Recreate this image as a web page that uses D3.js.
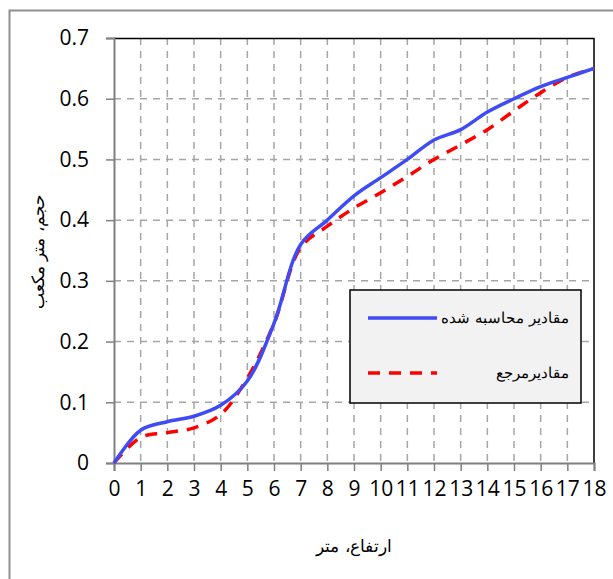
<!DOCTYPE html>
<html>
<head>
<meta charset="utf-8">
<script src="https://cdn.jsdelivr.net/npm/d3@7"></script>
<style>
  body { margin: 0; background: #fff; }
  svg { display: block; }
</style>
</head>
<body>
<div id="chart"></div>
<script>
// heights in metres
const heights = [0, 1, 2, 3, 4, 5, 6, 7, 8, 9, 10, 11, 12, 13, 14, 15, 16, 17, 18];
// computed values (blue)
const computed = [0, 0.054, 0.068, 0.077, 0.095, 0.135, 0.23, 0.36, 0.40, 0.44, 0.47, 0.50, 0.532, 0.549, 0.578, 0.60, 0.62, 0.635, 0.65];
// reference values (red dashed)
const reference = [0, 0.042, 0.05, 0.058, 0.08, 0.14, 0.23, 0.355, 0.39, 0.42, 0.445, 0.472, 0.50, 0.524, 0.549, 0.58, 0.61, 0.635, 0.65];
const yTicks = [0, 0.1, 0.2, 0.3, 0.4, 0.5, 0.6, 0.7];

const seriesNames = ["مقادیر محاسبه شده", "مقادیرمرجع"];
const xTitle = "ارتفاع، متر";
const yTitle = "حجم، متر مکعب";

const W = 613, H = 579;
const margin = {top: 38, right: 19, bottom: 116, left: 114};
const width = W - margin.left - margin.right;
const height = H - margin.top - margin.bottom;

const tickFont = "'Open Sans', 'Noto Sans', sans-serif";
const titleFont = "'DejaVu Serif', 'Times New Roman', serif";

const svg = d3.select("#chart").append("svg")
    .attr("width", W)
    .attr("height", H);

// outer chart border
svg.append("rect")
    .attr("x", 9.5).attr("y", 10.5)
    .attr("width", 700).attr("height", 700)
    .attr("fill", "none")
    .attr("stroke", "#909090")
    .attr("stroke-width", 2);

const g = svg.append("g")
    .attr("transform", `translate(${margin.left}, ${margin.top})`);

const x = d3.scaleLinear().domain([0, 18]).range([0, width]);
const y = d3.scaleLinear().domain([0, 0.7]).range([height, 0]);

// gridlines
g.append("g").selectAll("line")
    .data(heights.slice(1, -1))
    .join("line")
    .attr("x1", d => x(d)).attr("x2", d => x(d))
    .attr("y1", 0).attr("y2", height)
    .attr("stroke", "#a6a6a6")
    .attr("stroke-width", 1.5)
    .attr("stroke-dasharray", "7,6");

g.append("g").selectAll("line")
    .data(yTicks.slice(1, -1))
    .join("line")
    .attr("x1", 0).attr("x2", width)
    .attr("y1", d => y(d)).attr("y2", d => y(d))
    .attr("stroke", "#a6a6a6")
    .attr("stroke-width", 1.5)
    .attr("stroke-dasharray", "7,6");

// top and right border of plot area
g.append("path")
    .attr("d", `M0,0.5H${width}V${height}`)
    .attr("fill", "none")
    .attr("stroke", "#000")
    .attr("stroke-width", 1.5);

// axes
const xAxis = g.append("g")
    .attr("transform", `translate(0, ${height})`)
    .call(d3.axisBottom(x).tickValues(heights).tickFormat(d3.format("d")).tickSizeOuter(0).tickSize(8).tickPadding(10));
const yAxis = g.append("g")
    .call(d3.axisLeft(y).tickValues(yTicks).tickFormat(d => d === 0 ? "0" : d3.format(".1f")(d)).tickSizeOuter(0).tickSize(8).tickPadding(17));

[xAxis, yAxis].forEach(a => {
    a.select(".domain").attr("stroke", "#808080").attr("stroke-width", 2);
    a.selectAll(".tick line").attr("stroke", "#808080").attr("stroke-width", 1.5);
    a.selectAll(".tick text")
        .attr("fill", "#000")
        .style("font-family", tickFont)
        .style("font-size", "21px");
});

// lines
const line = d3.line().curve(d3.curveCatmullRom.alpha(0.5));

g.append("path")
    .datum(heights.map((h, i) => [x(h), y(reference[i])]))
    .attr("d", line)
    .attr("fill", "none")
    .attr("stroke", "#ff0000")
    .attr("stroke-width", 3.5)
    .attr("stroke-dasharray", "12,9");

g.append("path")
    .datum(heights.map((h, i) => [x(h), y(computed[i])]))
    .attr("d", line)
    .attr("fill", "none")
    .attr("stroke", "#3f4cf5")
    .attr("stroke-width", 3.5);

// legend
const legend = svg.append("g").attr("transform", "translate(350, 290)");
legend.append("rect")
    .attr("width", 231).attr("height", 113)
    .attr("fill", "#f2f2f2")
    .attr("stroke", "#000")
    .attr("stroke-width", 1.5);

const legendStyles = [
    {color: "#3f4cf5", dash: null, yy: 28},
    {color: "#ff0000", dash: "12,9", yy: 83}
];
seriesNames.forEach((name, i) => {
    const s = legendStyles[i];
    legend.append("line")
        .attr("x1", 18).attr("x2", 87)
        .attr("y1", s.yy).attr("y2", s.yy)
        .attr("stroke", s.color)
        .attr("stroke-width", 3.5)
        .attr("stroke-dasharray", s.dash);
    legend.append("text")
        .attr("x", 219).attr("y", s.yy + 5)
        .attr("text-anchor", "end")
        .style("font-family", titleFont)
        .style("font-size", "15px")
        .text(name);
});

// axis titles
svg.append("text")
    .attr("x", 354).attr("y", 552)
    .attr("text-anchor", "middle")
    .style("font-family", titleFont)
    .style("font-size", "17px")
    .text(xTitle);

svg.append("text")
    .attr("transform", `translate(44, ${margin.top + height / 2 + 1}) rotate(-90)`)
    .attr("text-anchor", "middle")
    .style("font-family", titleFont)
    .style("font-size", "17px")
    .text(yTitle);
</script>
</body>
</html>
